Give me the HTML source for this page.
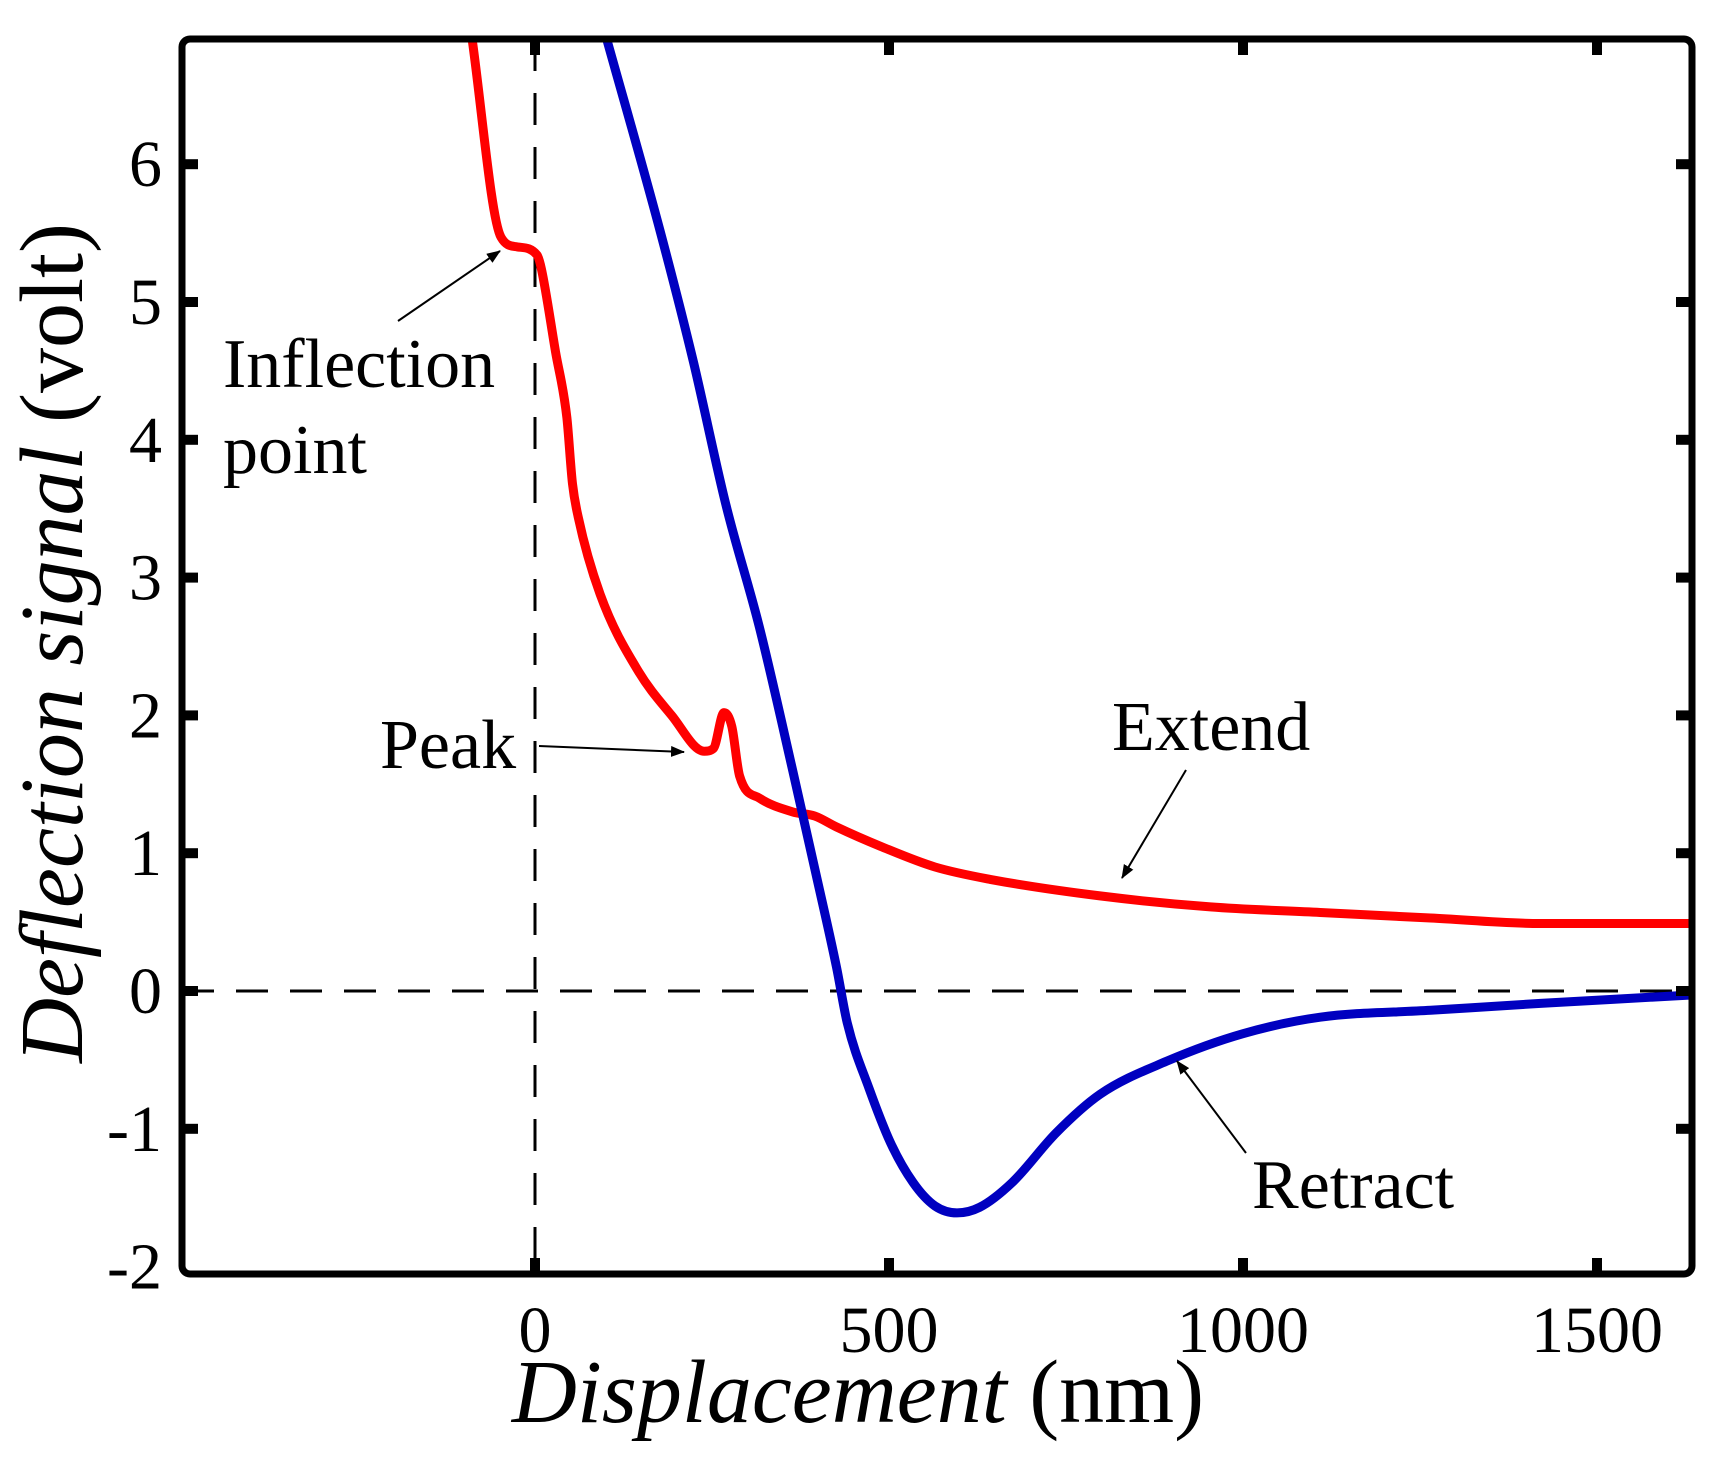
<!DOCTYPE html>
<html><head><meta charset="utf-8"><style>
html,body{margin:0;padding:0;background:#fff;}
svg text{font-family:"Liberation Serif",serif;fill:#000;}
</style></head><body>
<svg id="chart" width="1717" height="1455" viewBox="0 0 1717 1455" xmlns="http://www.w3.org/2000/svg">
<defs><marker id="ah" markerWidth="14" markerHeight="11" refX="13" refY="5.5" orient="auto" markerUnits="userSpaceOnUse"><path d="M0,0 L14,5.5 L0,11 Z" fill="#000"/></marker></defs>
<g id="marks"></g>
<g id="frame"></g>
<g id="labels"></g>
</svg>
<script>
const xTicks=[0,500,1000,1500];
const yTicks=[-2,-1,0,1,2,3,4,5,6];
const extendX=[-90,-48,-25,3,9,29,45,53,61,92,146,193,239,252,267,278,289,317,364,395,426,488,565,643,798,954,1109,1265,1420,1630];
const extendY=[6.95,5.47,5.40,5.34,5.24,4.64,4.16,3.68,3.44,2.88,2.32,2.0,1.74,1.76,2.02,1.92,1.56,1.40,1.30,1.27,1.19,1.05,0.90,0.81,0.69,0.61,0.57,0.53,0.49,0.49];
const retractX=[99,177,224,270,317,364,395,426,441,472,503,534,565,596,628,674,736,798,892,1000,1109,1265,1420,1630];
const retractY=[6.95,5.51,4.56,3.52,2.64,1.60,0.89,0.17,-0.23,-0.71,-1.11,-1.39,-1.56,-1.61,-1.57,-1.39,-1.03,-0.75,-0.51,-0.31,-0.19,-0.14,-0.09,-0.03];
const L=182,R=1692,T=39,B=1274;
function sx(v){return 535+0.708*v;}
function sy(v){return 991-137.8*v;}
const NS='http://www.w3.org/2000/svg';
function mk(tag,attrs,parent){const e=document.createElementNS(NS,tag);for(const k in attrs)e.setAttribute(k,attrs[k]);document.getElementById(parent).appendChild(e);return e;}
const cp=mk('clipPath',{id:'clip'},'marks');
const cr=document.createElementNS(NS,'rect');cr.setAttribute('x',L);cr.setAttribute('y',T);cr.setAttribute('width',R-L);cr.setAttribute('height',B-T);cp.appendChild(cr);
let d=mk('line',{x1:L,x2:R,y1:sy(0),y2:sy(0),stroke:'#000','stroke-width':3,'stroke-dasharray':'32 22'},'marks');


d=mk('line',{x1:sx(0),x2:sx(0),y1:T,y2:B,stroke:'#000','stroke-width':3,'stroke-dasharray':'32 22'},'marks');


// monotone cubic (Fritsch-Carlson) in pixel space, x increasing
function path(xs,ys){
 const X=xs.map(sx),Y=ys.map(sy),n=X.length;
 const dl=[],m=[];
 for(let i=0;i<n-1;i++)dl.push((Y[i+1]-Y[i])/(X[i+1]-X[i]));
 m[0]=dl[0];m[n-1]=dl[n-2];
 for(let i=1;i<n-1;i++){m[i]=(dl[i-1]*dl[i]<=0)?0:(dl[i-1]+dl[i])/2;}
 for(let i=0;i<n-1;i++){
  if(dl[i]===0){m[i]=0;m[i+1]=0;continue;}
  const a=m[i]/dl[i],b=m[i+1]/dl[i],s=a*a+b*b;
  if(s>9){const t=3/Math.sqrt(s);m[i]=t*a*dl[i];m[i+1]=t*b*dl[i];}
 }
 let s='M'+X[0].toFixed(1)+','+Y[0].toFixed(1);
 for(let i=0;i<n-1;i++){
  const h=(X[i+1]-X[i])/3;
  s+=' C'+(X[i]+h).toFixed(1)+','+(Y[i]+m[i]*h).toFixed(1)+' '+(X[i+1]-h).toFixed(1)+','+(Y[i+1]-m[i+1]*h).toFixed(1)+' '+X[i+1].toFixed(1)+','+Y[i+1].toFixed(1);
 }
 return s;}
let p=mk('path',{d:path(extendX,extendY),fill:'none',stroke:'#ff0000','stroke-width':9,'stroke-linejoin':'round','clip-path':'url(#clip)'},'marks');


p=mk('path',{d:path(retractX,retractY),fill:'none',stroke:'#0000c0','stroke-width':9,'stroke-linejoin':'round','clip-path':'url(#clip)'},'marks');


let f=mk('rect',{x:L,y:T,width:R-L,height:B-T,rx:8,fill:'none',stroke:'#000','stroke-width':7},'frame');


xTicks.forEach(v=>{
 let t=mk('line',{x1:sx(v),x2:sx(v),y1:B,y2:B-16,stroke:'#000','stroke-width':10},'frame');
 
 
 t=mk('line',{x1:sx(v),x2:sx(v),y1:T,y2:T+16,stroke:'#000','stroke-width':10},'frame');
 
 
 const lb=mk('text',{x:sx(v),y:1352,'font-size':66,'text-anchor':'middle'},'labels');
 lb.textContent=v;
 
 
});
yTicks.forEach(v=>{
 if(v>-2){
 let t=mk('line',{x1:L,x2:L+16,y1:sy(v),y2:sy(v),stroke:'#000','stroke-width':10},'frame');
 
 
 t=mk('line',{x1:R,x2:R-16,y1:sy(v),y2:sy(v),stroke:'#000','stroke-width':10},'frame');
 
 }
 const lb=mk('text',{x:162,y:sy(v)+22,'font-size':66,'text-anchor':'end'},'labels');
 lb.textContent=v;
 
 
});
function txt(s,x,y,size,name,extra){const e=mk('text',Object.assign({x:x,y:y,'font-size':size},extra||{}),'labels');e.innerHTML=s;return e;}
txt('<tspan font-style="italic">Displacement</tspan> (nm)',858,1422,90,'x-axis-title',{'text-anchor':'middle'});
txt('<tspan font-style="italic">Deflection signal</tspan> (volt)',0,0,90,'y-axis-title',{'text-anchor':'middle',transform:'translate(82,643) rotate(-90)'});
txt('Inflection',223,387,70,'annotation-inflection');
txt('point',223,473,70,'annotation-inflection-2');
txt('Peak',380,768,70,'annotation-peak');
txt('Extend',1112,750,70,'annotation-extend');
txt('Retract',1252,1208,70,'annotation-retract');
function arrow(x1,y1,x2,y2,name){const a=mk('line',{x1:x1,y1:y1,x2:x2,y2:y2,stroke:'#000','stroke-width':2,'marker-end':'url(#ah)'},'labels');}
arrow(398,321,500,251,'arrow-inflection');
arrow(539,746,684,752,'arrow-peak');
arrow(1186,770,1122,878,'arrow-extend');
arrow(1246,1153,1177,1061,'arrow-retract');
</script>
</body></html>
